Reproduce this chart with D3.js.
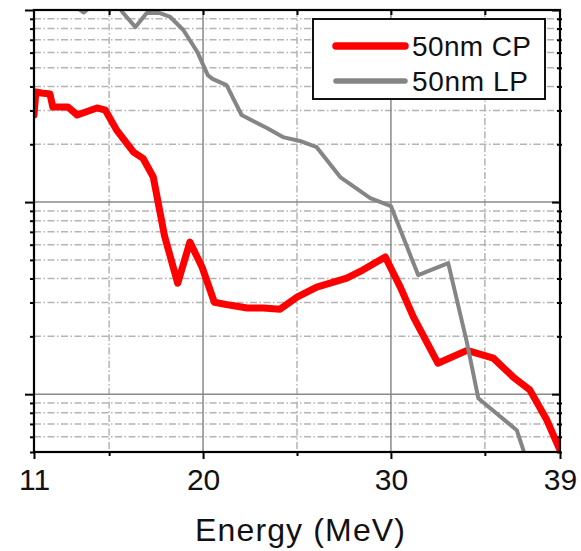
<!DOCTYPE html>
<html>
<head>
<meta charset="utf-8">
<script src="https://cdn.jsdelivr.net/npm/d3@7"></script>
<style>
  html, body { margin: 0; padding: 0; background: #fff; }
  svg { display: block; font-family: "Liberation Sans", Arial, Helvetica, sans-serif; }
</style>
</head>
<body>
<svg id="chart" width="581" height="551"></svg>
<script>
// Spectra: energy (MeV) vs. yield (log scale, arbitrary units)
const energyCP = [11.0, 11.1, 11.4, 11.85, 12.0, 12.8, 13.3, 14.35, 14.8, 15.4, 16.3, 16.8, 17.35, 17.95, 18.65, 19.3, 19.95, 20.6, 21.4, 22.35, 23.2, 24.1, 25.0, 26.05, 27.65, 28.5, 29.7, 30.5, 31.2, 32.5, 34.05, 35.45, 36.5, 37.4, 38.3, 39.0];
const valuesCP = [28.4, 37.4, 37.0, 36.5, 31.3, 31.3, 28.4, 30.9, 30.1, 23.7, 18.2, 16.9, 13.5, 6.65, 3.78, 6.19, 4.58, 3.01, 2.91, 2.81, 2.81, 2.77, 3.20, 3.61, 4.02, 4.43, 5.18, 3.61, 2.52, 1.45, 1.69, 1.54, 1.23, 1.05, 0.733, 0.511];

const energyLP = [11.0, 12.1, 13.65, 14.95, 15.7, 16.4, 17.0, 17.7, 18.25, 18.95, 19.7, 20.25, 20.5, 21.25, 22.05, 23.4, 24.25, 25.15, 26.05, 27.3, 28.9, 30.0, 31.45, 33.05, 34.05, 34.65, 36.7, 37.05, 37.25];
const valuesLP = [152, 124, 97.0, 124, 97.7, 81.5, 96.4, 96.4, 92.0, 78.7, 60.4, 45.8, 43.8, 40.6, 28.4, 24.3, 21.8, 20.8, 19.3, 13.5, 10.5, 9.53, 4.17, 4.81, 1.85, 0.953, 0.649, 0.511, 0.427];

const seriesNames = ["50nm CP", "50nm LP"];
const seriesColors = ["#ff0000", "#858585"];

const xTicks = [11, 15, 20, 25, 30, 35, 39];
const xTickLabels = [11, 20, 30, 39];
const xMajorGrid = [20, 30];
const xMinorGrid = [15, 25, 35];
const yDomain = [0.5, 100];
const xTitle = "Energy (MeV)";

// ---- layout ----
const svg = d3.select("#chart");
const L = 34, R = 560, T = 10, B = 452;

const x = d3.scaleLinear().domain([11, 39]).range([L, R]);
const y = d3.scaleLog().domain(yDomain).range([B, T]);

// log ticks: every integer multiple within each decade
const yTicks = [];
for (let p = -1; p <= 2; p++) {
  for (let m = 1; m <= 9; m++) {
    const v = m * Math.pow(10, p);
    if (v >= yDomain[0] - 1e-9 && v <= yDomain[1] + 1e-9) yTicks.push(+v.toPrecision(3));
  }
}
const isDecade = v => Math.abs(Math.log10(v) - Math.round(Math.log10(v))) < 1e-6;
const yMajor = yTicks.filter(isDecade);
const yMinor = yTicks.filter(v => !isDecade(v));

const grid = svg.append("g");
const dashDot = "7 2.5 1.5 2.5";

// minor grid (dash-dot)
grid.selectAll("line.hmin").data(yMinor).join("line")
  .attr("x1", L).attr("x2", R)
  .attr("y1", d => y(d)).attr("y2", d => y(d))
  .attr("stroke", "#b4b4b4").attr("stroke-width", 1.5)
  .attr("stroke-dasharray", dashDot);
grid.selectAll("line.vmin").data(xMinorGrid).join("line")
  .attr("y1", T).attr("y2", B)
  .attr("x1", d => x(d)).attr("x2", d => x(d))
  .attr("stroke", "#b4b4b4").attr("stroke-width", 1.5)
  .attr("stroke-dasharray", dashDot);

// major grid (solid)
grid.selectAll("line.hmaj").data(yMajor.filter(v => y(v) > T + 1 && y(v) < B - 1)).join("line")
  .attr("x1", L).attr("x2", R)
  .attr("y1", d => y(d)).attr("y2", d => y(d))
  .attr("stroke", "#8a8a8a").attr("stroke-width", 1.5);
grid.selectAll("line.vmaj").data(xMajorGrid).join("line")
  .attr("y1", T).attr("y2", B)
  .attr("x1", d => x(d)).attr("x2", d => x(d))
  .attr("stroke", "#8a8a8a").attr("stroke-width", 1.5);

// ---- data lines ----
svg.append("clipPath").attr("id", "plotClip")
  .append("rect").attr("x", L).attr("y", T).attr("width", R - L).attr("height", B - T);

const line = d3.line().x(d => x(d[0])).y(d => y(d[1]));
const cp = energyCP.map((e, i) => [e, valuesCP[i]]);
const lp = energyLP.map((e, i) => [e, valuesLP[i]]);

const plot = svg.append("g").attr("clip-path", "url(#plotClip)");
plot.append("path").datum(cp).attr("d", line)
  .attr("fill", "none").attr("stroke", seriesColors[0])
  .attr("stroke-width", 7).attr("stroke-linejoin", "round").attr("stroke-linecap", "round");
plot.append("path").datum(lp).attr("d", line)
  .attr("fill", "none").attr("stroke", seriesColors[1])
  .attr("stroke-width", 4).attr("stroke-linejoin", "round").attr("stroke-linecap", "round");

// ---- axes ----
const axisColor = "#000";
function styleAxis(g) {
  g.select(".domain").remove();
  g.selectAll(".tick line").attr("stroke", axisColor).attr("stroke-width", 2);
}

// bottom
const gB = svg.append("g").attr("transform", `translate(0,${B})`)
  .call(d3.axisBottom(x).tickValues(xTicks)
    .tickFormat(d => xTickLabels.includes(d) ? d : "")
    .tickSizeOuter(0).tickPadding(10));
styleAxis(gB);
gB.selectAll(".tick line").attr("y2", d => xTickLabels.includes(d) ? 7 : 4);
gB.selectAll(".tick text")
  .attr("font-size", 30).attr("fill", "#111")
  .attr("y", 17).attr("dy", "0.71em");

// top (inward ticks)
const gT = svg.append("g").attr("transform", `translate(0,${T})`)
  .call(d3.axisTop(x).tickValues(xTicks.slice(1, -1)).tickFormat("").tickSizeOuter(0).tickSizeInner(-5));
styleAxis(gT);

// left
const gL = svg.append("g").attr("transform", `translate(${L},0)`)
  .call(d3.axisLeft(y).tickValues(yTicks).tickFormat("").tickSizeOuter(0));
styleAxis(gL);
gL.selectAll(".tick line").attr("x2", d => isDecade(d) ? -9 : -4);

// right
const gR = svg.append("g").attr("transform", `translate(${R},0)`)
  .call(d3.axisRight(y).tickValues(yTicks).tickFormat("").tickSizeOuter(0));
styleAxis(gR);
gR.selectAll(".tick line")
  .attr("x1", d => isDecade(d) ? -8 : -3)
  .attr("x2", d => isDecade(d) ? 0 : 2);

// frame
svg.append("rect").attr("x", L).attr("y", T).attr("width", R - L).attr("height", B - T)
  .attr("fill", "none").attr("stroke", axisColor).attr("stroke-width", 2.2);

// axis title
svg.append("text")
  .attr("x", (L + R) / 2 + 3).attr("y", 541)
  .attr("text-anchor", "middle")
  .attr("font-size", 32).attr("fill", "#111")
  .attr("textLength", 210).attr("lengthAdjust", "spacing")
  .text(xTitle);

// ---- legend ----
const lg = svg.append("g");
lg.append("rect").attr("x", 313).attr("y", 19).attr("width", 232).attr("height", 80)
  .attr("fill", "#fff").attr("stroke", "#111").attr("stroke-width", 2);
const legendRows = [46, 81];
seriesNames.forEach((name, i) => {
  lg.append("line")
    .attr("x1", 336).attr("x2", 405)
    .attr("y1", legendRows[i]).attr("y2", legendRows[i])
    .attr("stroke", seriesColors[i])
    .attr("stroke-width", i === 0 ? 7.5 : 5.5)
    .attr("stroke-linecap", "round");
  lg.append("text")
    .attr("x", 412).attr("y", legendRows[i] + 10)
    .attr("font-size", 28).attr("fill", "#111")
    .attr("textLength", i === 0 ? 119 : 116).attr("lengthAdjust", "spacing")
    .text(name);
});
</script>
</body>
</html>
